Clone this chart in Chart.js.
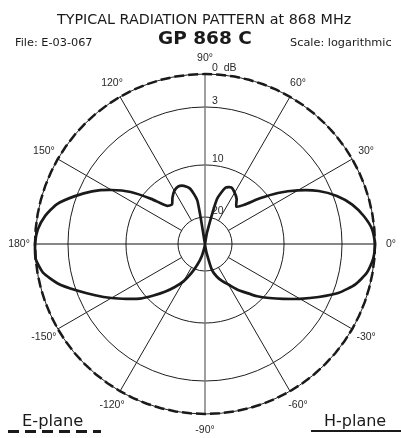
<!DOCTYPE html>
<html>
<head>
<meta charset="utf-8">
<script src="https://cdn.jsdelivr.net/npm/chart.js@4.4.0/dist/chart.umd.min.js"></script>
<style>
  html, body { margin: 0; padding: 0; background: #fff; }
  #wrap { position: relative; width: 401px; height: 438px; font-family: 'DejaVu Sans', sans-serif; color: #1a1a1a; overflow: hidden; }
  #wrap canvas { position: absolute; left: 0; top: 0; }
  .t { position: absolute; white-space: nowrap; line-height: 1; }
  #title { left: 57px; top: 12px; font-size: 14.3px; }
  #model { left: 158px; top: 29px; font-size: 18.5px; font-weight: bold; }
  #file { left: 15px; top: 37px; font-size: 11.3px; }
  #scale { left: 290px; top: 37px; font-size: 11.3px; }
  #eplane { left: 22px; top: 413px; font-size: 16.3px; }
  #hplane { left: 324px; top: 413px; font-size: 16px; }
  #eline { position: absolute; left: 8px; top: 430px; width: 93px; height: 3px;
    background: repeating-linear-gradient(to right, #1a1a1a 0 11px, transparent 11px 17px); }
  #hline { position: absolute; left: 311px; top: 430px; width: 90px; height: 2px; background: #1a1a1a; }
</style>
</head>
<body>
<div id="wrap">
  <canvas id="pattern"></canvas>
  <div class="t" id="title">TYPICAL RADIATION PATTERN at 868 MHz</div>
  <div class="t" id="model">GP 868 C</div>
  <div class="t" id="file">File: E-03-067</div>
  <div class="t" id="scale">Scale: logarithmic</div>
  <div class="t" id="eplane">E-plane</div>
  <div id="eline"></div>
  <div class="t" id="hplane">H-plane</div>
  <div id="hline"></div>
</div>
<script>
// angles in degrees, in drawing order (clockwise from 0°)
const angleTicks = [
  0, -5, -10, -15, -20, -25, -30, -35, -40, -45, -50, -55,
  -60, -65, -70, -75, -80, -85, -90, -95, -100, -105, -110, -115,
  -120, -125, -130, -135, -140, -145, -150, -155, -160, -165, -170, -175,
  180, 175, 170, 165, 160, 155, 150, 145, 140, 135, 130, 125,
  120, 115, 110, 105, 100, 95, 90, 85, 80, 75, 70, 65,
  60, 55, 50, 45, 40, 35, 30, 25, 20, 15, 10, 5
];

// attenuation in dB below maximum
const hPlaneDb = [
  0, 0.1, 0.5, 1.3, 2.5, 4.4, 6.3, 8.0, 9.4, 11.0, 13.0, 14.6,
  16.2, 17.3, 18.5, 20.0, 30, 34, 35, 35, 33, 28, 23, 19,
  16.9, 15.1, 13.2, 11.2, 9.3, 8.0, 6.5, 4.9, 3.1, 1.6, 0.5, 0,
  0, 0.2, 0.7, 1.5, 2.8, 4.5, 6.5, 8.6, 11.7, 14.8, 15.3, 14.3,
  13.4, 13.0, 13.3, 14.2, 16.7, 35, 35, 35, 28.5, 16.2, 13.7, 13.2,
  13.8, 14.6, 15.8, 14.5, 11.6, 8.8, 6.6, 4.4, 2.7, 1.6, 0.8, 0.2
];

const ePlaneDb = [
  0, 0, 0, 0, 0, 0, 0, 0, 0, 0, 0, 0,
  0, 0, 0, 0, 0, 0, 0, 0, 0, 0, 0, 0,
  0, 0, 0, 0, 0, 0, 0, 0, 0, 0, 0, 0,
  0, 0, 0, 0, 0, 0, 0, 0, 0, 0, 0, 0,
  0, 0, 0, 0, 0, 0, 0, 0, 0, 0, 0, 0,
  0, 0, 0, 0, 0, 0, 0, 0, 0, 0, 0, 0
];

const ringDb = [0, 3, 10, 20];
const ringLabels = ['0  dB', '3', '10', '20'];
const labelAngles = [90, 60, 30, 0, -30, -60, -90, -120, -150, 180, 150, 120];
const spokeAngles = [60, 30, -30, -60, -120, -150, 150, 120];

// logarithmic chart paper: dB -> fraction of full radius
function toPaper(db) {
  const d = [0, 3, 10, 20, 35];
  const f = [1, 0.806, 0.465, 0.159, 0];
  if (db <= 0) return 1;
  for (let i = 1; i < d.length; i++) {
    if (db <= d[i]) return f[i - 1] + (f[i] - f[i - 1]) * (db - d[i - 1]) / (d[i] - d[i - 1]);
  }
  return 0;
}

const paper = {
  id: 'paper',
  beforeDatasetsDraw(chart) {
    const s = chart.scales.r, ctx = chart.ctx;
    const r0 = s.getDistanceFromCenterForValue(toPaper(20));
    const r1 = s.getDistanceFromCenterForValue(toPaper(0));
    ctx.save();
    ctx.strokeStyle = '#1e1e1e';
    ctx.lineWidth = 1;
    spokeAngles.forEach(a => {
      const i = angleTicks.indexOf(a);
      const p0 = s.getPointPosition(i, r0), p1 = s.getPointPosition(i, r1);
      ctx.beginPath();
      ctx.moveTo(p0.x, p0.y);
      ctx.lineTo(p1.x, p1.y);
      ctx.stroke();
    });
    ctx.restore();
  },
  afterDraw(chart) {
    const s = chart.scales.r, ctx = chart.ctx;
    ctx.save();
    ctx.fillStyle = '#2a2a2a';
    ctx.font = '10.5px "Liberation Sans", Arial, sans-serif';
    ctx.textAlign = 'center';
    ctx.textBaseline = 'middle';
    labelAngles.forEach(a => {
      const p = s.getPointPosition(angleTicks.indexOf(a), s.drawingArea + 16);
      ctx.fillText(a + '°', p.x, p.y);
    });
    ctx.textAlign = 'left';
    ctx.textBaseline = 'alphabetic';
    ringDb.forEach((db, k) => {
      const y = s.yCenter - s.getDistanceFromCenterForValue(toPaper(db));
      ctx.fillText(ringLabels[k], s.xCenter + 7, y - 3);
    });
    ctx.restore();
  }
};

new Chart(document.getElementById('pattern'), {
  type: 'radar',
  data: {
    labels: angleTicks,
    datasets: [{
      label: 'H-plane',
      data: hPlaneDb.map(toPaper),
      borderColor: '#1a1a1a',
      borderWidth: 2.7,
      borderJoinStyle: 'round',
      tension: 0.2,
      pointRadius: 0,
      fill: false
    }, {
      label: 'E-plane',
      data: ePlaneDb.map(toPaper),
      borderColor: '#1a1a1a',
      borderWidth: 2.5,
      borderDash: [10, 4],
      pointRadius: 0,
      fill: false
    }]
  },
  options: {
    responsive: true,
    maintainAspectRatio: false,
    animation: false,
    layout: { padding: { left: 35, right: 26, top: 74, bottom: 24 } },
    elements: { line: { tension: 0 } },
    plugins: { legend: { display: false }, tooltip: { enabled: false } },
    scales: {
      r: {
        min: 0,
        max: 1,
        startAngle: 90,
        afterBuildTicks: s => {
          s.ticks = [{ value: 0 }].concat(ringDb.slice().reverse().map(db => ({ value: toPaper(db) })));
        },
        ticks: { display: false },
        grid: { circular: true, color: '#1e1e1e', lineWidth: 1 },
        angleLines: {
          color: c => (Math.abs(c.label) === 90 ? '#777' : '#111'),
          lineWidth: c => (c.label % 90 === 0 ? (Math.abs(c.label) === 90 ? 1.4 : 1.2) : 0)
        },
        pointLabels: { display: false }
      }
    }
  },
  plugins: [paper]
});
</script>
</body>
</html>
